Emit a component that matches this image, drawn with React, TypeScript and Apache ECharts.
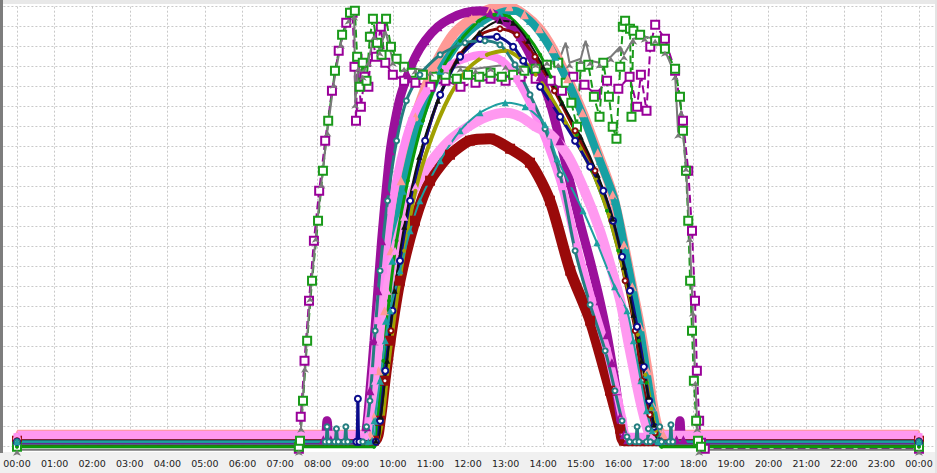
import React, { useEffect, useRef } from "react";
import * as echarts from "echarts";

// x = hour of day, y = value (axis has no labels; 22 grid rows)
const xTickLabels = ["00:00","01:00","02:00","03:00","04:00","05:00","06:00","07:00","08:00","09:00","10:00","11:00","12:00","13:00","14:00","15:00","16:00","17:00","18:00","19:00","20:00","21:00","22:00","23:00","00:00"];

const greenSquares = [[0,0],[7.5,0],[7.53,0.3],[7.61,2.3],[7.72,5.3],[7.85,8.3],[8.01,11.3],[8.14,13.8],[8.28,16.3],[8.46,18.8],[8.65,20.6],[8.86,21.7],[8.99,21.8],[9.05,19.5],[9.12,18.0],[9.2,19.2],[9.3,18.3],[9.39,20.5],[9.47,21.4],[9.58,20.2],[9.7,19.6],[9.82,21.4],[9.95,20.0],[10.1,19.4],[10.3,19.0],[10.5,18.7],[10.8,18.6],[11.1,18.5],[11.4,18.6],[11.7,18.4],[12.0,18.6],[12.3,18.5],[12.6,18.7],[12.9,18.5],[13.2,18.6],[13.5,18.8],[13.8,18.9],[14.1,19.1],[14.4,19.2],[14.6,18.2],[14.75,17.2],[14.9,16.0],[15.0,19.0],[15.2,19.1],[15.35,17.5],[15.5,16.5],[15.6,19.2],[15.75,17.5],[15.85,16.0],[15.95,15.4],[16.05,19.0],[16.12,21.0],[16.18,21.3],[16.31,20.9],[16.35,16.5],[16.4,20.8],[16.58,20.6],[16.98,20.3],[17.24,19.9],[17.51,18.9],[17.64,17.5],[17.72,15.8],[17.8,13.8],[17.86,11.3],[17.91,8.3],[17.96,5.8],[18.01,3.3],[18.07,1.3],[18.12,0.3],[18.2,0],[24,0]];

const purpleSquares = [[7.5,-0.1],[7.55,1.5],[7.65,4.3],[7.77,7.3],[7.9,10.3],[8.04,12.8],[8.2,15.3],[8.38,17.8],[8.56,19.8],[8.76,21.2],[8.93,21.7],[8.98,19.0],[9.02,16.3],[9.06,19.4],[9.15,17.0],[9.25,18.5],[9.35,18.0],[9.45,20.5],[9.55,19.5],[9.68,21.0],[9.8,19.2],[10.0,18.6],[10.3,18.3],[10.6,18.2],[11.0,18.0],[11.4,18.3],[11.8,18.0],[12.2,18.2],[12.6,18.4],[13.0,18.3],[13.4,18.5],[13.8,18.4],[14.2,18.3],[14.5,17.8],[14.8,18.5],[15.1,18.1],[15.4,17.6],[15.7,18.3],[16.0,17.9],[16.3,18.5],[16.5,17.0],[16.6,18.6],[16.75,16.8],[16.85,20.0],[16.98,21.1],[17.24,20.4],[17.51,18.8],[17.72,16.3],[17.86,13.8],[17.96,10.8],[18.04,7.3],[18.09,3.8],[18.15,1.3],[18.2,0.2],[18.3,-0.1],[24,-0.1]];

const greyArrows = [[0,-0.15],[7.5,-0.15],[7.56,1.0],[7.66,4.0],[7.8,7.5],[7.95,10.5],[8.1,13.2],[8.26,15.8],[8.43,18.2],[8.62,20.2],[8.82,21.4],[8.97,21.6],[9.0,17.2],[9.08,19.0],[9.2,18.6],[9.35,19.3],[9.5,20.6],[9.65,19.8],[9.8,20.8],[10.0,19.3],[10.3,19.0],[10.6,18.9],[11.0,18.8],[11.4,18.9],[11.8,19.0],[12.2,18.9],[12.6,19.0],[13.0,19.1],[13.4,19.0],[13.8,19.2],[14.1,19.3],[14.4,19.2],[14.6,20.2],[14.7,19.2],[15.0,19.4],[15.13,20.3],[15.25,19.3],[15.5,19.2],[15.8,19.5],[16.05,20.0],[16.15,19.6],[16.4,20.4],[16.7,20.5],[16.98,20.4],[17.24,19.8],[17.51,18.6],[17.59,15.7],[17.67,16.8],[17.8,14.0],[17.9,10.5],[17.98,6.8],[18.05,3.3],[18.1,1.0],[18.15,-0.15],[24,-0.15]];

const salmon = [[0,0.6],[9.4,0.6],[9.5,1.5],[9.62,3.8],[9.78,6.8],[9.95,9.8],[10.22,13.3],[10.6,16.5],[11.1,19.0],[11.6,20.6],[12.1,21.4],[12.6,21.9],[13.1,22.0],[13.5,21.6],[13.9,20.9],[14.25,19.9],[14.65,18.4],[15.05,16.7],[15.45,14.7],[15.85,12.6],[16.15,10.1],[16.37,8.0],[16.58,6.0],[16.78,3.8],[16.93,2.0],[17.06,0.9],[17.2,0.6],[24,0.6]];

const tealThick = [[0,0.3],[9.45,0.3],[9.55,1.3],[9.66,3.3],[9.82,6.3],[9.99,9.3],[10.26,12.8],[10.72,16.3],[11.26,18.8],[11.79,20.3],[12.32,21.2],[12.85,21.7],[13.25,21.8],[13.65,21.3],[14.0,20.5],[14.32,19.5],[14.72,18.0],[15.11,16.3],[15.51,14.3],[15.91,12.3],[16.18,9.8],[16.39,7.8],[16.58,5.8],[16.76,3.6],[16.9,2.0],[17.03,0.8],[17.15,0.3],[24,0.3]];

const purpleTriangles = [[0,0.35],[8.15,0.35],[8.25,1.3],[8.35,0.35],[9.2,0.35],[9.3,1.0],[9.39,2.8],[9.5,5.3],[9.6,7.8],[9.7,10.3],[9.82,12.8],[9.93,14.8],[10.06,16.3],[10.2,17.5],[10.4,18.6],[10.6,19.5],[10.86,20.3],[11.2,21.0],[11.52,21.4],[11.92,21.7],[12.32,21.8],[12.59,21.7],[12.85,21.4],[13.12,21.1],[13.38,20.5],[13.65,19.6],[13.92,18.5],[14.18,17.2],[14.45,15.3],[14.72,13.2],[14.98,11.2],[15.25,9.3],[15.51,7.3],[15.7,5.6],[15.83,4.2],[15.95,2.8],[16.05,1.5],[16.15,0.6],[16.25,0.35],[17.55,0.35],[17.64,1.3],[17.73,0.35],[24,0.35]];

const violet = [[0,0.5],[9.25,0.5],[9.35,1.3],[9.48,3.8],[9.6,6.3],[9.75,8.8],[9.95,11.8],[10.2,14.3],[10.5,16.3],[10.9,17.8],[11.4,18.9],[11.9,19.4],[12.4,19.6],[12.9,19.3],[13.3,18.4],[13.7,17.0],[14.1,15.2],[14.5,13.0],[14.9,10.0],[15.3,7.3],[15.7,4.8],[15.95,2.8],[16.12,1.3],[16.25,0.5],[24,0.5]];

const tealCircles = [[0,0.25],[8.2,0.25],[8.25,1.0],[8.3,0.25],[8.45,0.25],[8.5,0.9],[8.55,0.25],[8.7,0.25],[8.75,1.0],[8.8,0.25],[9.2,0.25],[9.3,1.0],[9.39,2.3],[9.53,5.8],[9.66,8.8],[9.86,12.3],[10.1,15.3],[10.36,17.3],[10.72,18.6],[11.26,19.6],[11.92,20.2],[12.45,20.3],[12.85,20.1],[13.25,19.1],[13.65,17.6],[14.05,15.9],[14.45,13.6],[14.85,9.8],[15.25,7.1],[15.65,4.8],[15.91,2.8],[16.1,1.3],[16.23,0.5],[16.3,0.25],[16.45,0.25],[16.5,1.0],[16.55,0.25],[16.75,0.25],[16.8,0.9],[16.85,0.25],[17.05,0.25],[17.1,1.0],[17.15,0.25],[17.35,0.25],[17.4,1.1],[17.45,0.25],[24,0.25]];

const pink = [[0,0.55],[9.3,0.55],[9.4,1.3],[9.53,3.3],[9.66,5.3],[9.85,7.8],[10.06,9.8],[10.3,11.5],[10.6,13.0],[11.0,14.2],[11.5,15.3],[12.0,16.0],[12.5,16.5],[13.0,16.7],[13.4,16.5],[13.8,16.0],[14.2,15.6],[14.64,14.6],[15.1,12.8],[15.51,10.8],[15.8,9.0],[16.05,7.3],[16.31,4.8],[16.58,2.3],[16.79,0.8],[16.9,0.55],[24,0.55]];

const tealTriangles = [[0,0.25],[9.35,0.25],[9.5,1.3],[9.66,3.3],[9.8,5.3],[9.93,6.8],[10.19,8.8],[10.46,10.8],[10.72,12.3],[11.26,14.3],[11.79,15.8],[12.32,16.7],[12.99,17.2],[13.52,17.0],[14.05,16.1],[14.37,14.4],[15.06,11.8],[15.43,10.2],[15.9,8.0],[16.23,6.8],[16.4,5.3],[16.6,3.3],[16.75,1.8],[16.9,0.8],[17.05,0.25],[24,0.25]];

const greenThin = [[0,0],[9.5,0],[9.6,1.3],[9.75,4.3],[9.9,7.3],[10.1,10.3],[10.4,13.3],[10.8,16.3],[11.3,18.8],[11.79,20.3],[12.3,21.3],[12.7,21.6],[13.1,21.5],[13.6,20.5],[13.92,19.6],[14.2,18.5],[14.5,17.2],[14.9,15.6],[15.3,13.8],[15.7,11.8],[16.0,9.8],[16.3,7.6],[16.55,5.3],[16.75,3.2],[16.9,1.6],[17.02,0.6],[17.15,0],[24,0]];

const darkRedThin = [[0,0.3],[9.55,0.3],[9.66,1.3],[9.79,3.3],[9.95,5.8],[10.19,9.3],[10.46,12.3],[10.86,15.3],[11.26,17.6],[11.79,19.6],[12.32,20.6],[12.85,20.9],[13.3,20.6],[13.78,19.5],[14.3,17.8],[14.85,15.8],[15.38,13.8],[15.83,11.3],[16.18,8.3],[16.45,5.8],[16.63,3.3],[16.84,1.6],[16.98,0.7],[17.1,0.3],[24,0.3]];

const olive = [[9.6,0.3],[9.72,1.3],[9.86,3.8],[10.06,6.8],[10.3,9.8],[10.6,12.8],[11.0,15.3],[11.5,17.5],[12.0,18.9],[12.5,19.6],[13.0,19.8],[13.4,19.4],[13.8,18.6],[14.2,17.5],[14.6,16.2],[15.0,14.9],[15.4,13.4],[15.75,11.6],[16.05,9.5],[16.3,7.6],[16.52,5.6],[16.72,3.6],[16.88,1.9],[17.0,0.8],[17.12,0.3]];

const navy = [[0,0.25],[9.03,0.25],[9.07,2.4],[9.11,0.25],[9.55,0.25],[9.66,1.3],[9.8,3.8],[9.99,6.8],[10.19,9.3],[10.46,12.3],[10.86,15.3],[11.26,17.6],[11.79,19.5],[12.32,20.4],[12.77,20.5],[13.2,20.0],[13.47,19.3],[13.92,18.0],[14.45,16.5],[14.85,15.3],[15.25,14.0],[15.6,12.8],[15.86,11.3],[16.1,9.5],[16.31,7.8],[16.5,6.0],[16.68,4.0],[16.82,2.3],[16.95,1.0],[17.08,0.25],[24,0.25]];

const black = [[0,0.3],[9.55,0.3],[9.68,1.5],[9.85,4.3],[10.05,7.8],[10.3,11.0],[10.7,14.5],[11.2,17.3],[11.7,19.3],[12.3,20.7],[12.85,21.3],[13.2,21.2],[13.6,20.3],[14.0,19.0],[14.5,17.2],[15.0,15.5],[15.45,13.6],[15.85,11.4],[16.15,9.0],[16.4,6.6],[16.62,4.3],[16.8,2.5],[16.95,1.1],[17.06,0.3],[24,0.3]];

const darkRedSquares = [[0,0.3],[9.5,0.3],[9.66,1.3],[9.79,3.3],[9.93,5.3],[10.19,8.3],[10.59,11.3],[10.99,13.3],[11.52,14.6],[12.05,15.3],[12.59,15.4],[13.12,14.9],[13.65,14.2],[14.18,12.3],[14.72,8.8],[15.25,6.3],[15.78,2.8],[16.05,0.9],[16.15,0.3],[24,0.3]];

type S = { name: string; data: number[][]; color: string; symbol: string; size: number; width: number; dashed?: boolean; smooth?: boolean };

const seriesDefs: S[] = [
  { name: "DR", data: darkRedSquares, color: "#9a0a0a", symbol: "rect", size: 10, width: 11, smooth: true },
  { name: "P1", data: purpleSquares, color: "#990099", symbol: "emptyRect", size: 8, width: 2, dashed: true },
  { name: "G1", data: greenSquares, color: "#1a9a1a", symbol: "emptyRect", size: 8, width: 2, dashed: true },
  { name: "GR", data: greyArrows, color: "#7a7a7a", symbol: "arrow", size: 6, width: 2 },
  { name: "SA", data: salmon, color: "#ff9a96", symbol: "triangle", size: 9, width: 10, smooth: true },
  { name: "TK", data: tealThick, color: "#17a0a3", symbol: "triangle", size: 8, width: 8, smooth: true },
  { name: "PT", data: purpleTriangles, color: "#9b109b", symbol: "triangle", size: 9, width: 9, smooth: true },
  { name: "VI", data: violet, color: "#ff8cf2", symbol: "rect", size: 7, width: 8, smooth: true },
  { name: "PK", data: pink, color: "#ff99f0", symbol: "triangle", size: 8, width: 10, smooth: true },
  { name: "GT", data: greenThin, color: "#0a9a0a", symbol: "circle", size: 4, width: 3, smooth: true },
  { name: "DT", data: darkRedThin, color: "#8a0a0a", symbol: "emptyCircle", size: 5, width: 3, smooth: true },
  { name: "OL", data: olive, color: "#a0a000", symbol: "circle", size: 4, width: 4, smooth: true },
  { name: "NV", data: navy, color: "#0c0c8c", symbol: "emptyCircle", size: 6, width: 3, smooth: true },
  { name: "BK", data: black, color: "#111111", symbol: "triangle", size: 6, width: 2, smooth: true },
  { name: "TC", data: tealCircles, color: "#247e80", symbol: "emptyCircle", size: 5, width: 3, smooth: true },
  { name: "TT", data: tealTriangles, color: "#1e9fa0", symbol: "triangle", size: 7, width: 2, smooth: true },
];

export default function App() {
  const ref = useRef<HTMLDivElement>(null);
  useEffect(() => {
    if (!ref.current) return;
    const chart = echarts.init(ref.current, null, { renderer: "svg" });
    const hourW = 902 / 24;
    const left = 17 - hourW;
    const right = 937 - (17 + 25 * hourW);
    chart.setOption({
      animation: false,
      backgroundColor: "transparent",
      grid: { left, right, top: 6.7, bottom: 26.3, outerBoundsMode: "none", containLabel: false },
      xAxis: {
        type: "value", min: -1, max: 25, interval: 1,
        axisLine: { show: false }, axisTick: { show: false },
        axisLabel: {
          margin: 12, fontSize: 9.5, fontFamily: "DejaVu Sans", color: "#222",
          formatter: (v: number) => (v >= 0 && v <= 24 ? xTickLabels[Math.round(v)] : ""),
        },
        splitLine: { show: true, lineStyle: { color: "#c9c9c9", type: [2, 2], width: 1 } },
      },
      yAxis: {
        type: "value", min: 0, max: 22, interval: 1,
        axisLine: { show: false }, axisTick: { show: false }, axisLabel: { show: false },
        splitLine: { show: true, lineStyle: { color: "#c9c9c9", type: [2, 2], width: 1 } },
      },
      graphic: [
        { type: "rect", z: -10, shape: { x: 3, y: 4, width: 932, height: 448 }, style: { fill: "#ffffff" }, silent: true },
        { type: "rect", z: 100, shape: { x: 0, y: 0, width: 3, height: 453 }, style: { fill: "#7d7d7d" }, silent: true },
        { type: "rect", z: 100, shape: { x: 935, y: 0, width: 2, height: 473 }, style: { fill: "#e4e4e4" }, silent: true },
        { type: "rect", z: 100, shape: { x: 3, y: 0, width: 932, height: 4 }, style: { fill: "#e8e8e8" }, silent: true },
      ],
      series: seriesDefs.map((s) => ({
        name: s.name,
        type: "line",
        data: s.data,
        clip: false,
        smooth: s.smooth ? 0.25 : false,
        showSymbol: true,
        symbol: s.symbol,
        symbolSize: s.size,
        lineStyle: { color: s.color, width: s.width, type: s.dashed ? "dashed" : "solid" },
        itemStyle: { color: s.color, borderColor: s.color, borderWidth: s.symbol.startsWith("empty") ? 2 : 0 },
        emphasis: { disabled: true },
      })),
    });
    return () => chart.dispose();
  }, []);
  return (
    <div
      ref={ref}
      style={{ position: "fixed", left: 0, top: 0, width: 937, height: 473, background: "#f0f0f0" }}
    />
  );
}
